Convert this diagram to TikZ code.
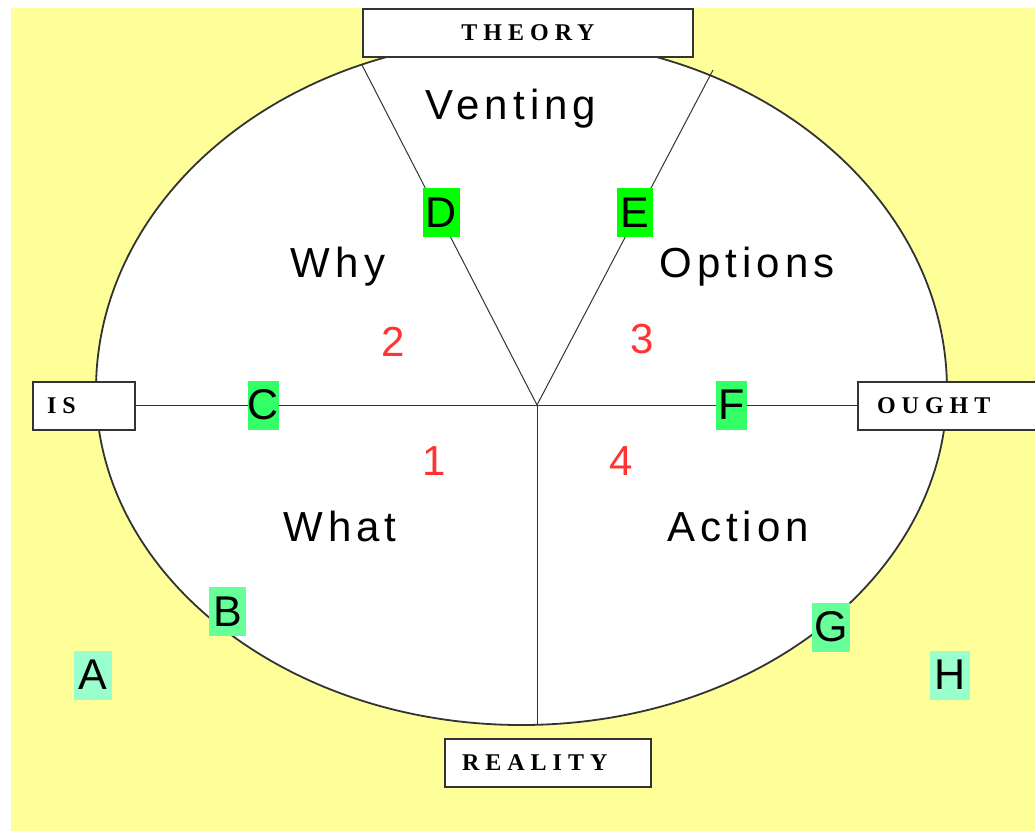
\documentclass[tikz,border=0pt]{standalone}
\usepackage{fontspec}
\setmainfont{Liberation Sans}
\newfontfamily\boxfont[LetterSpace=25]{Liberation Serif}
\newfontfamily\wordfont[LetterSpace=12]{Liberation Sans}
\definecolor{bgyellow}{HTML}{FFFF99}
\definecolor{gA}{HTML}{99FFCC}
\definecolor{gB}{HTML}{66FF99}
\definecolor{gC}{HTML}{33FF66}
\definecolor{gD}{HTML}{00FF00}
\definecolor{numred}{HTML}{FF3333}
\definecolor{edgegray}{HTML}{333333}
\pgfdeclarelayer{background}
\pgfsetlayers{background,main}
\begin{document}
\begin{tikzpicture}[x=1pt,y=-1pt,
  tag/.style={draw=edgegray, line width=1.5pt, fill=white, inner ysep=0pt,
    minimum height=48pt, font=\boxfont\bfseries\fontsize{24}{24}\selectfont},
  letterbox/.style={inner sep=0pt, minimum height=49pt,
    font=\fontsize{43}{43}\selectfont},
  word/.style={font=\wordfont\fontsize{42}{42}\selectfont, inner sep=0pt, anchor=base},
  num/.style={text=numred, font=\fontsize{42}{42}\selectfont, inner sep=0pt, anchor=base},
  conn/.style={draw=edgegray, line width=1pt}
]
\useasboundingbox (0,0) rectangle (1035,831);

% label boxes
\node[tag, minimum width=330pt, inner xsep=0pt] (theory) at (528,33) {THEORY};
\node[tag, text width=74pt, inner xsep=14pt, align=left] (is) at (84,406) {IS};
\node[tag, text width=144pt, inner xsep=19pt, align=left] (ought) at (949,406) {OUGHT};
\node[tag, text width=172pt, inner xsep=17pt, align=left] (reality) at (548,763) {REALITY};

% connector end points
\coordinate (O) at (537,405);
\coordinate (Dtop) at (362,65);
\coordinate (Etop) at (713,70);
\coordinate (Rbot) at (537,725);

% words
\node[word] (venting) at (511,119) {Venting};
\node[word] (why) at (338,277) {Why};
\node[word] (options) at (747,277) {Options};
\node[word] (what) at (340,541) {What};
\node[word] (action) at (738,541) {Action};

% numbers
\node[num] (n2) at (393.5,356) {2};
\node[num] (n3) at (642.5,353) {3};
\node[num] (n1) at (434,475) {1};
\node[num] (n4) at (621,475) {4};

% letter boxes
\node[letterbox, fill=gA, minimum width=38pt] (A) at (93,675) {A};
\node[letterbox, fill=gB, minimum width=37pt] (B) at (227.5,611.5) {B};
\node[letterbox, fill=gC, minimum width=31pt] (C) at (263.5,405) {C};
\node[letterbox, fill=gD, minimum width=37pt] (D) at (441.5,212.5) {D};
\node[letterbox, fill=gD, minimum width=36pt] (E) at (635,212.5) {E};
\node[letterbox, fill=gC, minimum width=31pt] (F) at (731.5,405) {F};
\node[letterbox, fill=gB, minimum width=38pt] (G) at (831,627) {G};
\node[letterbox, fill=gA, minimum width=40pt] (H) at (950,675) {H};

\begin{pgfonlayer}{background}
  \fill[white] (0,0) rectangle (1035,831);
  \fill[bgyellow] (11,8) rectangle (1035,831);
  \draw[draw=edgegray, line width=1.8pt, fill=white] (947,390)
    arc[start angle=0, end angle=180, x radius=425.5pt, y radius=351pt]
    arc[start angle=180, end angle=360, x radius=425.5pt, y radius=335pt] -- cycle;
  \draw[conn] (is.east |- O) -- (O) -- (ought.west |- O);
  \draw[conn] (Dtop) -- (O) -- (Etop);
  \draw[conn] (O) -- (Rbot);
\end{pgfonlayer}
\end{tikzpicture}
\end{document}
